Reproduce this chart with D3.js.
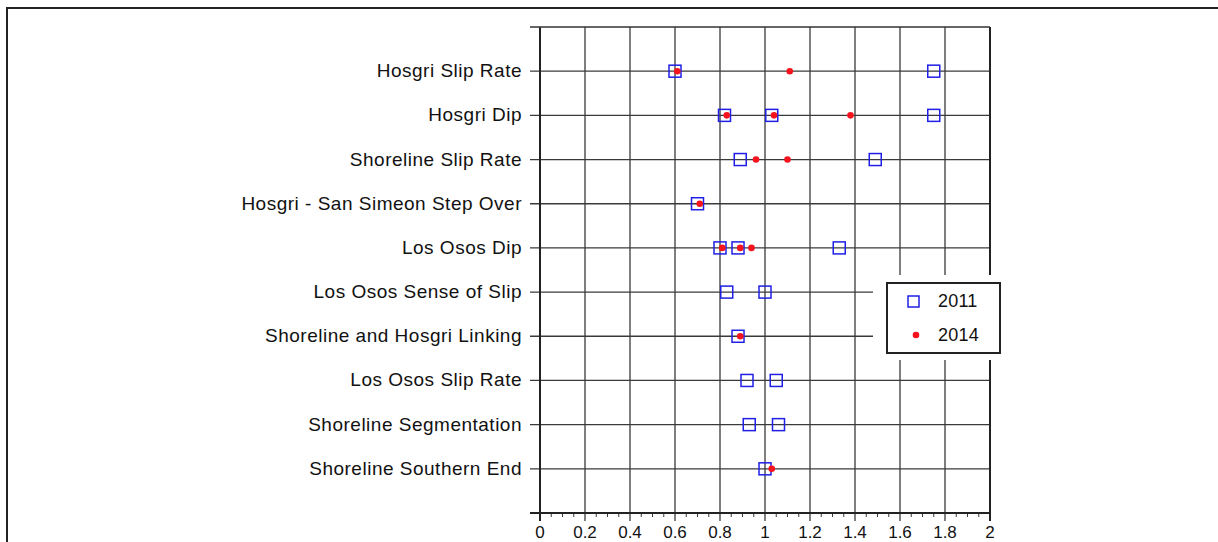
<!DOCTYPE html>
<html>
<head>
<meta charset="utf-8">
<script src="https://cdn.jsdelivr.net/npm/d3@7"></script>
<style>
  html, body { margin: 0; padding: 0; background: #fff; }
  svg { display: block; font-family: "Liberation Sans", Arial, Helvetica, sans-serif; }
</style>
</head>
<body>
<script>
// rows, top to bottom
const categories = [
  "Hosgri Slip Rate",
  "Hosgri Dip",
  "Shoreline Slip Rate",
  "Hosgri - San Simeon Step Over",
  "Los Osos Dip",
  "Los Osos Sense of Slip",
  "Shoreline and Hosgri Linking",
  "Los Osos Slip Rate",
  "Shoreline Segmentation",
  "Shoreline Southern End"
];

// 2011 values (open squares), one list per row
const values2011 = [
  [0.60, 1.75],
  [0.82, 1.03, 1.75],
  [0.89, 1.49],
  [0.70],
  [0.80, 0.88, 1.33],
  [0.83, 1.00],
  [0.88],
  [0.92, 1.05],
  [0.93, 1.06],
  [1.00]
];

// 2014 values (red dots)
const values2014 = [
  [0.61, 1.11],
  [0.83, 1.04, 1.38],
  [0.96, 1.10],
  [0.71],
  [0.81, 0.89, 0.94],
  [],
  [0.89],
  [],
  [],
  [1.03]
];

const xTicks = [0, 0.2, 0.4, 0.6, 0.8, 1, 1.2, 1.4, 1.6, 1.8, 2];
const legendLabels = ["2011", "2014"];

const W = 1218, H = 542;
const svg = d3.select("body").append("svg")
    .attr("width", W)
    .attr("height", H);

// outer frame (runs off the right and bottom edges)
svg.append("path")
    .attr("d", `M7,${H + 5}V8H${W + 5}`)
    .attr("fill", "none")
    .attr("stroke", "#222")
    .attr("stroke-width", 2);

const x = d3.scaleLinear().domain([0, 2]).range([540, 990]);
const y = d3.scaleLinear().domain([0, categories.length + 1]).range([27, 513]);

const grid = svg.append("g")
    .attr("stroke", "#3a3a3a")
    .attr("stroke-width", 1.3);

// horizontal row lines; the two beside the legend stop short
grid.selectAll("line.row")
  .data(categories)
  .join("line")
    .attr("class", "row")
    .attr("x1", x(0) - 10)
    .attr("x2", (d, i) => (i === 5 || i === 6) ? 873 : x(2))
    .attr("y1", (d, i) => y(i + 1))
    .attr("y2", (d, i) => y(i + 1));

// vertical grid lines with major ticks below the axis
grid.selectAll("line.col")
  .data(xTicks)
  .join("line")
    .attr("class", "col")
    .attr("x1", d => x(d))
    .attr("x2", d => x(d))
    .attr("y1", y(0))
    .attr("y2", y(categories.length + 1) + 8)
    .attr("stroke", (d, i) => (i === 0 || i === xTicks.length - 1) ? "#222" : "#3a3a3a")
    .attr("stroke-width", (d, i) => (i === 0 || i === xTicks.length - 1) ? 2 : 1.3);

// minor ticks
grid.selectAll("line.minor")
  .data(d3.range(0, 2.0001, 0.05).filter(v => Math.abs(v * 5 - Math.round(v * 5)) > 1e-6))
  .join("line")
    .attr("class", "minor")
    .attr("x1", d => x(d))
    .attr("x2", d => x(d))
    .attr("y1", y(categories.length + 1))
    .attr("y2", y(categories.length + 1) + 4)
    .attr("stroke-width", 1);

// top and bottom frame lines
svg.append("line")
    .attr("x1", x(0) - 10).attr("x2", x(2))
    .attr("y1", y(0)).attr("y2", y(0))
    .attr("stroke", "#333").attr("stroke-width", 1.6);
svg.append("line")
    .attr("x1", x(0) - 10).attr("x2", x(2))
    .attr("y1", y(categories.length + 1)).attr("y2", y(categories.length + 1))
    .attr("stroke", "#222").attr("stroke-width", 2);

// x tick labels
svg.append("g")
    .attr("font-size", 17)
    .attr("fill", "#111")
    .attr("text-anchor", "middle")
  .selectAll("text")
  .data(xTicks)
  .join("text")
    .attr("x", d => x(d))
    .attr("y", 538)
    .text(d => d);

// row labels
svg.append("g")
    .attr("font-size", 19)
    .attr("letter-spacing", 0.5)
    .attr("fill", "#111")
    .attr("text-anchor", "end")
  .selectAll("text")
  .data(categories)
  .join("text")
    .attr("x", 522)
    .attr("y", (d, i) => y(i + 1) + 6)
    .text(d => d);

// 2011 squares
const sq = 12;
svg.append("g")
    .attr("fill", "none")
    .attr("stroke", "#1f1fe6")
    .attr("stroke-width", 1.5)
  .selectAll("rect")
  .data(values2011.flatMap((vals, i) => vals.map(v => ({ v, i }))))
  .join("rect")
    .attr("x", d => x(d.v) - sq / 2)
    .attr("y", d => y(d.i + 1) - sq / 2)
    .attr("width", sq)
    .attr("height", sq);

// 2014 dots
svg.append("g")
    .attr("fill", "#f5141e")
  .selectAll("circle")
  .data(values2014.flatMap((vals, i) => vals.map(v => ({ v, i }))))
  .join("circle")
    .attr("cx", d => x(d.v))
    .attr("cy", d => y(d.i + 1))
    .attr("r", 3.3);

// legend
const lg = svg.append("g");
lg.append("rect")
    .attr("x", 873).attr("y", 275)
    .attr("width", 135).attr("height", 85)
    .attr("fill", "#fff");
lg.append("rect")
    .attr("x", 887).attr("y", 283)
    .attr("width", 113).attr("height", 70)
    .attr("fill", "#fff")
    .attr("stroke", "#222")
    .attr("stroke-width", 2);
lg.append("rect")
    .attr("x", 908).attr("y", 296)
    .attr("width", 11).attr("height", 11)
    .attr("fill", "none")
    .attr("stroke", "#1f1fe6")
    .attr("stroke-width", 1.5);
lg.append("circle")
    .attr("cx", 916).attr("cy", 335)
    .attr("r", 3.3)
    .attr("fill", "#f5141e");
lg.selectAll("text")
  .data(legendLabels)
  .join("text")
    .attr("x", 938)
    .attr("y", (d, i) => 307 + i * 34)
    .attr("font-size", 18)
    .attr("letter-spacing", 0.2)
    .attr("fill", "#111")
    .text(d => d);
</script>
</body>
</html>
